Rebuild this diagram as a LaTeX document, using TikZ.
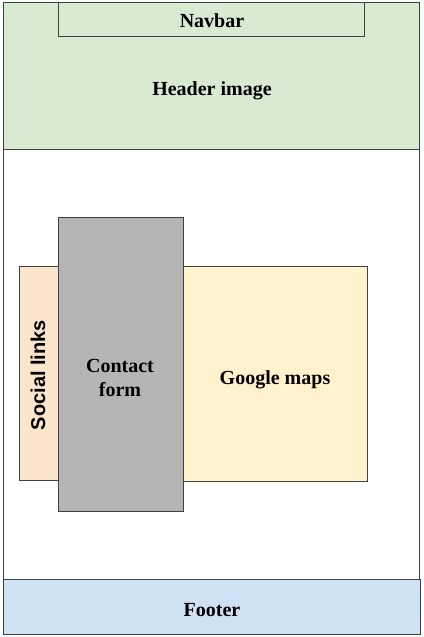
\documentclass[tikz,border=0pt]{standalone}
\usepackage{fontspec}
\setmainfont{Liberation Serif}
\setsansfont{Liberation Sans}
\begin{document}
\begin{tikzpicture}[x=1pt,y=-1pt,
  box/.style={draw=black!75,line width=1.3pt,inner sep=0pt,anchor=north west},
  lbl/.style={font=\fontsize{20}{23.5}\selectfont\bfseries,align=center,inner sep=0pt},
  slbl/.style={font=\sffamily\fontsize{20}{24}\selectfont\bfseries,inner sep=0pt,rotate=90}]
\useasboundingbox (0,0) rectangle (423,637);
\definecolor{hdr}{HTML}{D9EAD3}
\definecolor{ftr}{HTML}{CFE2F3}
\definecolor{soc}{HTML}{FCE5CD}
\definecolor{gmap}{HTML}{FFF2CC}
\definecolor{cform}{HTML}{B5B5B5}
\node[box,fill=white,minimum width=416pt,minimum height=632pt] (page) at (3,2) {};
\node[box,fill=hdr,minimum width=416pt,minimum height=147pt] (header) at (3,2) {};
\node[box,fill=hdr,minimum width=306pt,minimum height=34pt] (navbar) at (58,2) {};
\node[box,fill=ftr,minimum width=417pt,minimum height=55pt] (footer) at (3,579) {};
\node[box,fill=soc,minimum width=39pt,minimum height=214pt] (social) at (19,266) {};
\node[box,fill=gmap,minimum width=184pt,minimum height=215pt] (gmaps) at (183,266) {};
\node[box,fill=cform,minimum width=125pt,minimum height=294pt] (contact) at (58,217) {};
\node[lbl] (tnav) at (212,21) {Navbar};
\node[lbl] (thead) at (212,91) {Header image};
\node[lbl] (tcontact) at (120,378) {Contact\\form};
\node[lbl] (tmaps) at (275,380) {Google maps};
\node[slbl] (tsocial) at (38,375) {Social links};
\node[lbl] (tfoot) at (212,610) {Footer};
\end{tikzpicture}
\end{document}
